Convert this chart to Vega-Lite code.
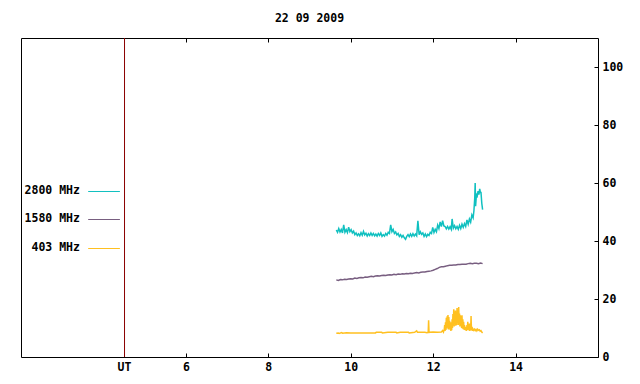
{
"$schema": "https://vega.github.io/schema/vega-lite/v6.json",
"width": 577, "height": 319,
"autosize": {"type": "none"},
"padding": {"left": 21, "top": 38, "right": 42, "bottom": 27},
"background": "white",
"config": {"view": {"stroke": "black", "strokeWidth": 1}, "font": "DejaVu Sans Mono"},
"title": {"text": "22 09 2009", "font": "DejaVu Sans Mono", "fontSize": 11.5, "fontWeight": "bold", "color": "black", "offset": 13, "anchor": "middle"},
"data": {"values": [{}]},
"datasets": {"flux": [
{"s":"2800 MHz","t":9.65,"v":43.8},{"s":"2800 MHz","t":9.68,"v":43.0},{"s":"2800 MHz","t":9.71,"v":44.3},{"s":"2800 MHz","t":9.74,"v":43.1},{"s":"2800 MHz","t":9.77,"v":44.0},{"s":"2800 MHz","t":9.80,"v":42.8},{"s":"2800 MHz","t":9.83,"v":45.6},{"s":"2800 MHz","t":9.86,"v":43.0},{"s":"2800 MHz","t":9.89,"v":43.9},{"s":"2800 MHz","t":9.92,"v":42.9},{"s":"2800 MHz","t":9.95,"v":44.8},{"s":"2800 MHz","t":9.98,"v":43.2},
{"s":"2800 MHz","t":10.01,"v":43.9},{"s":"2800 MHz","t":10.04,"v":42.8},{"s":"2800 MHz","t":10.07,"v":43.4},{"s":"2800 MHz","t":10.10,"v":42.2},{"s":"2800 MHz","t":10.13,"v":42.8},{"s":"2800 MHz","t":10.16,"v":41.9},{"s":"2800 MHz","t":10.19,"v":42.5},{"s":"2800 MHz","t":10.22,"v":41.8},{"s":"2800 MHz","t":10.25,"v":42.9},{"s":"2800 MHz","t":10.28,"v":42.0},{"s":"2800 MHz","t":10.31,"v":43.3},{"s":"2800 MHz","t":10.34,"v":42.1},{"s":"2800 MHz","t":10.37,"v":42.7},{"s":"2800 MHz","t":10.40,"v":41.7},{"s":"2800 MHz","t":10.43,"v":42.5},{"s":"2800 MHz","t":10.46,"v":41.9},{"s":"2800 MHz","t":10.49,"v":42.8},{"s":"2800 MHz","t":10.52,"v":41.9},{"s":"2800 MHz","t":10.55,"v":42.6},{"s":"2800 MHz","t":10.58,"v":41.8},{"s":"2800 MHz","t":10.61,"v":42.4},{"s":"2800 MHz","t":10.64,"v":41.7},{"s":"2800 MHz","t":10.67,"v":42.6},{"s":"2800 MHz","t":10.70,"v":41.9},{"s":"2800 MHz","t":10.73,"v":42.8},{"s":"2800 MHz","t":10.76,"v":41.6},{"s":"2800 MHz","t":10.79,"v":42.2},{"s":"2800 MHz","t":10.82,"v":41.7},{"s":"2800 MHz","t":10.85,"v":42.6},{"s":"2800 MHz","t":10.88,"v":42.0},{"s":"2800 MHz","t":10.91,"v":43.0},{"s":"2800 MHz","t":10.94,"v":42.6},{"s":"2800 MHz","t":10.97,"v":45.6},{"s":"2800 MHz","t":11.00,"v":43.2},
{"s":"2800 MHz","t":11.03,"v":44.0},{"s":"2800 MHz","t":11.06,"v":42.6},{"s":"2800 MHz","t":11.09,"v":43.1},{"s":"2800 MHz","t":11.12,"v":42.1},{"s":"2800 MHz","t":11.15,"v":42.6},{"s":"2800 MHz","t":11.18,"v":41.6},{"s":"2800 MHz","t":11.21,"v":42.2},{"s":"2800 MHz","t":11.24,"v":41.3},{"s":"2800 MHz","t":11.27,"v":41.9},{"s":"2800 MHz","t":11.30,"v":41.1},{"s":"2800 MHz","t":11.33,"v":40.6},{"s":"2800 MHz","t":11.36,"v":41.6},{"s":"2800 MHz","t":11.39,"v":42.2},{"s":"2800 MHz","t":11.42,"v":41.5},{"s":"2800 MHz","t":11.45,"v":42.4},{"s":"2800 MHz","t":11.48,"v":41.6},{"s":"2800 MHz","t":11.51,"v":42.5},{"s":"2800 MHz","t":11.54,"v":41.7},{"s":"2800 MHz","t":11.57,"v":42.4},{"s":"2800 MHz","t":11.60,"v":41.8},{"s":"2800 MHz","t":11.63,"v":47.0},{"s":"2800 MHz","t":11.66,"v":42.2},{"s":"2800 MHz","t":11.69,"v":43.2},{"s":"2800 MHz","t":11.72,"v":42.3},{"s":"2800 MHz","t":11.75,"v":42.8},{"s":"2800 MHz","t":11.78,"v":41.6},{"s":"2800 MHz","t":11.81,"v":42.4},{"s":"2800 MHz","t":11.84,"v":41.5},{"s":"2800 MHz","t":11.87,"v":42.3},{"s":"2800 MHz","t":11.90,"v":41.9},{"s":"2800 MHz","t":11.93,"v":43.0},{"s":"2800 MHz","t":11.96,"v":42.6},{"s":"2800 MHz","t":11.99,"v":44.7},
{"s":"2800 MHz","t":12.02,"v":42.9},{"s":"2800 MHz","t":12.05,"v":44.0},{"s":"2800 MHz","t":12.08,"v":43.2},{"s":"2800 MHz","t":12.11,"v":45.5},{"s":"2800 MHz","t":12.14,"v":44.3},{"s":"2800 MHz","t":12.17,"v":46.6},{"s":"2800 MHz","t":12.20,"v":45.0},{"s":"2800 MHz","t":12.23,"v":47.0},{"s":"2800 MHz","t":12.26,"v":45.2},{"s":"2800 MHz","t":12.29,"v":45.0},{"s":"2800 MHz","t":12.32,"v":44.2},{"s":"2800 MHz","t":12.35,"v":45.0},{"s":"2800 MHz","t":12.38,"v":44.1},{"s":"2800 MHz","t":12.41,"v":44.9},{"s":"2800 MHz","t":12.44,"v":44.0},{"s":"2800 MHz","t":12.46,"v":47.6},{"s":"2800 MHz","t":12.49,"v":44.4},{"s":"2800 MHz","t":12.52,"v":45.3},{"s":"2800 MHz","t":12.55,"v":44.2},{"s":"2800 MHz","t":12.58,"v":45.0},{"s":"2800 MHz","t":12.61,"v":44.0},{"s":"2800 MHz","t":12.64,"v":45.4},{"s":"2800 MHz","t":12.67,"v":44.3},{"s":"2800 MHz","t":12.70,"v":45.8},{"s":"2800 MHz","t":12.73,"v":44.7},{"s":"2800 MHz","t":12.76,"v":46.0},{"s":"2800 MHz","t":12.79,"v":45.0},{"s":"2800 MHz","t":12.82,"v":47.3},{"s":"2800 MHz","t":12.85,"v":45.8},{"s":"2800 MHz","t":12.88,"v":47.6},{"s":"2800 MHz","t":12.91,"v":46.5},{"s":"2800 MHz","t":12.94,"v":49.0},{"s":"2800 MHz","t":12.97,"v":48.0},{"s":"2800 MHz","t":12.99,"v":50.5},{"s":"2800 MHz","t":13.01,"v":55.0},{"s":"2800 MHz","t":13.02,"v":60.0},{"s":"2800 MHz","t":13.03,"v":52.0},{"s":"2800 MHz","t":13.05,"v":56.0},{"s":"2800 MHz","t":13.07,"v":55.5},{"s":"2800 MHz","t":13.09,"v":57.2},{"s":"2800 MHz","t":13.11,"v":56.0},{"s":"2800 MHz","t":13.13,"v":58.0},{"s":"2800 MHz","t":13.15,"v":56.5},{"s":"2800 MHz","t":13.16,"v":57.0},{"s":"2800 MHz","t":13.18,"v":53.0},{"s":"2800 MHz","t":13.20,"v":50.8},
{"s":"1580 MHz","t":9.65,"v":26.6},{"s":"1580 MHz","t":9.7,"v":26.4},{"s":"1580 MHz","t":9.75,"v":26.7},{"s":"1580 MHz","t":9.8,"v":26.6},{"s":"1580 MHz","t":9.85,"v":26.8},{"s":"1580 MHz","t":9.9,"v":26.7},{"s":"1580 MHz","t":9.95,"v":26.9},{"s":"1580 MHz","t":10.0,"v":27.0},{"s":"1580 MHz","t":10.05,"v":26.9},{"s":"1580 MHz","t":10.1,"v":27.2},{"s":"1580 MHz","t":10.15,"v":27.1},{"s":"1580 MHz","t":10.2,"v":27.3},{"s":"1580 MHz","t":10.25,"v":27.4},{"s":"1580 MHz","t":10.3,"v":27.3},{"s":"1580 MHz","t":10.35,"v":27.6},{"s":"1580 MHz","t":10.4,"v":27.5},{"s":"1580 MHz","t":10.45,"v":27.7},{"s":"1580 MHz","t":10.5,"v":27.8},{"s":"1580 MHz","t":10.55,"v":27.7},{"s":"1580 MHz","t":10.6,"v":27.9},{"s":"1580 MHz","t":10.65,"v":28.0},{"s":"1580 MHz","t":10.7,"v":27.9},{"s":"1580 MHz","t":10.75,"v":28.1},{"s":"1580 MHz","t":10.8,"v":28.2},{"s":"1580 MHz","t":10.85,"v":28.1},{"s":"1580 MHz","t":10.9,"v":28.3},{"s":"1580 MHz","t":10.95,"v":28.4},{"s":"1580 MHz","t":11.0,"v":28.3},{"s":"1580 MHz","t":11.05,"v":28.5},{"s":"1580 MHz","t":11.1,"v":28.4},{"s":"1580 MHz","t":11.15,"v":28.6},{"s":"1580 MHz","t":11.2,"v":28.5},{"s":"1580 MHz","t":11.25,"v":28.7},{"s":"1580 MHz","t":11.3,"v":28.6},{"s":"1580 MHz","t":11.35,"v":28.8},{"s":"1580 MHz","t":11.4,"v":28.7},{"s":"1580 MHz","t":11.45,"v":28.9},{"s":"1580 MHz","t":11.5,"v":28.8},{"s":"1580 MHz","t":11.55,"v":29.0},{"s":"1580 MHz","t":11.6,"v":29.1},{"s":"1580 MHz","t":11.65,"v":29.0},{"s":"1580 MHz","t":11.7,"v":29.2},{"s":"1580 MHz","t":11.75,"v":29.3},{"s":"1580 MHz","t":11.8,"v":29.3},{"s":"1580 MHz","t":11.85,"v":29.5},{"s":"1580 MHz","t":11.9,"v":29.6},{"s":"1580 MHz","t":11.95,"v":29.7},{"s":"1580 MHz","t":12.0,"v":29.9},{"s":"1580 MHz","t":12.05,"v":30.2},{"s":"1580 MHz","t":12.1,"v":30.5},{"s":"1580 MHz","t":12.15,"v":30.9},{"s":"1580 MHz","t":12.2,"v":31.1},{"s":"1580 MHz","t":12.25,"v":31.1},{"s":"1580 MHz","t":12.3,"v":31.3},{"s":"1580 MHz","t":12.35,"v":31.5},{"s":"1580 MHz","t":12.4,"v":31.6},{"s":"1580 MHz","t":12.45,"v":31.6},{"s":"1580 MHz","t":12.5,"v":31.7},{"s":"1580 MHz","t":12.55,"v":31.7},{"s":"1580 MHz","t":12.6,"v":31.9},{"s":"1580 MHz","t":12.65,"v":31.9},{"s":"1580 MHz","t":12.7,"v":32.0},{"s":"1580 MHz","t":12.75,"v":32.0},{"s":"1580 MHz","t":12.8,"v":32.0},{"s":"1580 MHz","t":12.85,"v":32.2},{"s":"1580 MHz","t":12.9,"v":32.3},{"s":"1580 MHz","t":12.95,"v":32.2},{"s":"1580 MHz","t":13.0,"v":32.3},{"s":"1580 MHz","t":13.05,"v":32.3},{"s":"1580 MHz","t":13.1,"v":32.2},{"s":"1580 MHz","t":13.15,"v":32.4},{"s":"1580 MHz","t":13.2,"v":32.2},
{"s":"403 MHz","t":9.65,"v":8.2},{"s":"403 MHz","t":9.7,"v":8.3},{"s":"403 MHz","t":9.72,"v":8.1},{"s":"403 MHz","t":9.78,"v":8.4},{"s":"403 MHz","t":9.8,"v":8.2},{"s":"403 MHz","t":9.9,"v":8.4},{"s":"403 MHz","t":10.0,"v":8.3},{"s":"403 MHz","t":10.3,"v":8.3},{"s":"403 MHz","t":10.6,"v":8.3},{"s":"403 MHz","t":10.62,"v":8.5},{"s":"403 MHz","t":10.75,"v":8.5},{"s":"403 MHz","t":10.77,"v":8.3},{"s":"403 MHz","t":10.9,"v":8.5},{"s":"403 MHz","t":11.1,"v":8.5},{"s":"403 MHz","t":11.12,"v":8.3},{"s":"403 MHz","t":11.2,"v":8.5},{"s":"403 MHz","t":11.4,"v":8.5},{"s":"403 MHz","t":11.42,"v":8.3},{"s":"403 MHz","t":11.55,"v":8.5},{"s":"403 MHz","t":11.6,"v":9.0},{"s":"403 MHz","t":11.62,"v":8.5},{"s":"403 MHz","t":11.8,"v":8.5},{"s":"403 MHz","t":11.85,"v":8.4},{"s":"403 MHz","t":11.88,"v":8.5},{"s":"403 MHz","t":11.89,"v":12.7},{"s":"403 MHz","t":11.9,"v":8.5},{"s":"403 MHz","t":12.0,"v":8.6},{"s":"403 MHz","t":12.1,"v":8.5},{"s":"403 MHz","t":12.2,"v":8.6},{"s":"403 MHz","t":12.23,"v":9.1},{"s":"403 MHz","t":12.25,"v":8.6},
{"s":"403 MHz","t":12.27,"v":9.5},{"s":"403 MHz","t":12.28,"v":11.0},{"s":"403 MHz","t":12.29,"v":9.0},{"s":"403 MHz","t":12.30,"v":12.0},{"s":"403 MHz","t":12.31,"v":9.3},{"s":"403 MHz","t":12.32,"v":13.5},{"s":"403 MHz","t":12.33,"v":9.8},{"s":"403 MHz","t":12.34,"v":14.0},{"s":"403 MHz","t":12.35,"v":10.5},{"s":"403 MHz","t":12.36,"v":14.5},{"s":"403 MHz","t":12.37,"v":9.5},{"s":"403 MHz","t":12.38,"v":13.8},{"s":"403 MHz","t":12.39,"v":10.2},{"s":"403 MHz","t":12.40,"v":12.5},{"s":"403 MHz","t":12.41,"v":9.4},{"s":"403 MHz","t":12.42,"v":12.0},{"s":"403 MHz","t":12.43,"v":9.0},{"s":"403 MHz","t":12.44,"v":11.3},{"s":"403 MHz","t":12.45,"v":9.2},{"s":"403 MHz","t":12.46,"v":13.0},{"s":"403 MHz","t":12.47,"v":10.0},{"s":"403 MHz","t":12.48,"v":14.8},{"s":"403 MHz","t":12.49,"v":11.0},{"s":"403 MHz","t":12.50,"v":16.5},{"s":"403 MHz","t":12.51,"v":10.5},{"s":"403 MHz","t":12.52,"v":15.5},{"s":"403 MHz","t":12.53,"v":11.5},{"s":"403 MHz","t":12.54,"v":16.0},{"s":"403 MHz","t":12.55,"v":10.8},{"s":"403 MHz","t":12.56,"v":15.0},{"s":"403 MHz","t":12.57,"v":11.0},{"s":"403 MHz","t":12.58,"v":16.9},{"s":"403 MHz","t":12.59,"v":12.0},{"s":"403 MHz","t":12.60,"v":15.8},{"s":"403 MHz","t":12.61,"v":11.0},{"s":"403 MHz","t":12.62,"v":17.2},{"s":"403 MHz","t":12.63,"v":11.5},{"s":"403 MHz","t":12.64,"v":15.0},{"s":"403 MHz","t":12.65,"v":10.5},{"s":"403 MHz","t":12.66,"v":14.4},{"s":"403 MHz","t":12.67,"v":11.0},{"s":"403 MHz","t":12.68,"v":14.0},{"s":"403 MHz","t":12.69,"v":10.0},{"s":"403 MHz","t":12.70,"v":14.4},{"s":"403 MHz","t":12.71,"v":9.8},{"s":"403 MHz","t":12.72,"v":13.0},{"s":"403 MHz","t":12.73,"v":9.6},{"s":"403 MHz","t":12.74,"v":12.1},{"s":"403 MHz","t":12.75,"v":9.4},{"s":"403 MHz","t":12.76,"v":11.0},{"s":"403 MHz","t":12.77,"v":9.3},{"s":"403 MHz","t":12.78,"v":10.4},{"s":"403 MHz","t":12.79,"v":9.2},{"s":"403 MHz","t":12.80,"v":10.0},{"s":"403 MHz","t":12.81,"v":9.0},{"s":"403 MHz","t":12.82,"v":11.0},{"s":"403 MHz","t":12.83,"v":9.3},{"s":"403 MHz","t":12.84,"v":12.1},{"s":"403 MHz","t":12.85,"v":9.5},{"s":"403 MHz","t":12.86,"v":10.8},{"s":"403 MHz","t":12.87,"v":9.2},{"s":"403 MHz","t":12.88,"v":11.5},{"s":"403 MHz","t":12.89,"v":9.0},{"s":"403 MHz","t":12.90,"v":10.5},{"s":"403 MHz","t":12.91,"v":9.2},{"s":"403 MHz","t":12.92,"v":14.1},{"s":"403 MHz","t":12.93,"v":9.4},{"s":"403 MHz","t":12.94,"v":10.2},{"s":"403 MHz","t":12.95,"v":9.0},{"s":"403 MHz","t":12.96,"v":9.8},{"s":"403 MHz","t":12.98,"v":9.2},{"s":"403 MHz","t":13.00,"v":9.6},{"s":"403 MHz","t":13.02,"v":9.1},{"s":"403 MHz","t":13.04,"v":9.5},{"s":"403 MHz","t":13.06,"v":9.0},{"s":"403 MHz","t":13.08,"v":9.6},{"s":"403 MHz","t":13.10,"v":9.2},{"s":"403 MHz","t":13.12,"v":9.4},{"s":"403 MHz","t":13.14,"v":8.9},{"s":"403 MHz","t":13.16,"v":9.1},{"s":"403 MHz","t":13.18,"v":8.6},{"s":"403 MHz","t":13.20,"v":8.3}
]},
"layer": [
{"mark": {"type": "rule", "color": "#8b0000", "strokeWidth": 1},
 "encoding": {"x": {"datum": 4.512, "type": "quantitative", "scale": {"domain": [2, 16], "nice": false, "zero": false},
   "axis": {"orient": "top", "values": [6, 8, 10, 12, 14], "labels": false, "tickSize": -4, "tickColor": "black", "domain": false, "grid": false, "title": null}}}},
{"data": {"name": "flux"},
 "mark": {"type": "line", "strokeWidth": 1.5},
 "encoding": {
  "x": {"field": "t", "type": "quantitative", "scale": {"domain": [2, 16], "nice": false, "zero": false},
   "axis": {"orient": "bottom", "values": [4.5, 6, 8, 10, 12, 14], "labelExpr": "datum.value == 4.5 ? 'UT' : datum.label", "tickSize": -4, "tickColor": "black", "domain": false, "grid": false, "title": null, "labelFont": "DejaVu Sans Mono", "labelFontSize": 11.5, "labelFontWeight": "bold", "labelColor": "black", "labelPadding": 8}},
  "y": {"field": "v", "type": "quantitative", "scale": {"domain": [0, 110], "nice": false},
   "axis": {"orient": "right", "values": [0, 20, 40, 60, 80, 100], "tickSize": -4, "tickColor": "black", "domain": false, "grid": false, "title": null, "labelFont": "DejaVu Sans Mono", "labelFontSize": 11.5, "labelFontWeight": "bold", "labelColor": "black", "labelPadding": 8}},
  "color": {"field": "s", "type": "nominal", "scale": {"domain": ["2800 MHz", "1580 MHz", "403 MHz"], "range": ["#10C0C0", "#785E80", "#FFC020"]}, "legend": null}
 }},
{"mark": {"type": "text", "align": "right", "baseline": "middle", "font": "DejaVu Sans Mono", "fontSize": 11.5, "fontWeight": "bold", "color": "black", "text": "2800 MHz"},
 "encoding": {"x": {"datum": 3.43, "type": "quantitative", "axis": null}, "y": {"datum": 57.1, "type": "quantitative", "axis": null}}},
{"mark": {"type": "text", "align": "right", "baseline": "middle", "font": "DejaVu Sans Mono", "fontSize": 11.5, "fontWeight": "bold", "color": "black", "text": "1580 MHz"},
 "encoding": {"x": {"datum": 3.43, "type": "quantitative", "axis": null}, "y": {"datum": 47.5, "type": "quantitative", "axis": null}}},
{"mark": {"type": "text", "align": "right", "baseline": "middle", "font": "DejaVu Sans Mono", "fontSize": 11.5, "fontWeight": "bold", "color": "black", "text": "403 MHz"},
 "encoding": {"x": {"datum": 3.43, "type": "quantitative", "axis": null}, "y": {"datum": 37.5, "type": "quantitative", "axis": null}}},
{"mark": {"type": "rule", "color": "#10C0C0", "strokeWidth": 1},
 "encoding": {"x": {"datum": 3.63, "type": "quantitative", "axis": null}, "x2": {"datum": 4.4}, "y": {"datum": 57.07, "type": "quantitative", "axis": null}}},
{"mark": {"type": "rule", "color": "#785E80", "strokeWidth": 1},
 "encoding": {"x": {"datum": 3.63, "type": "quantitative", "axis": null}, "x2": {"datum": 4.4}, "y": {"datum": 47.41, "type": "quantitative", "axis": null}}},
{"mark": {"type": "rule", "color": "#FFC020", "strokeWidth": 1},
 "encoding": {"x": {"datum": 3.63, "type": "quantitative", "axis": null}, "x2": {"datum": 4.4}, "y": {"datum": 37.41, "type": "quantitative", "axis": null}}}
],
"resolve": {"axis": {"x": "independent", "y": "independent"}}
}
